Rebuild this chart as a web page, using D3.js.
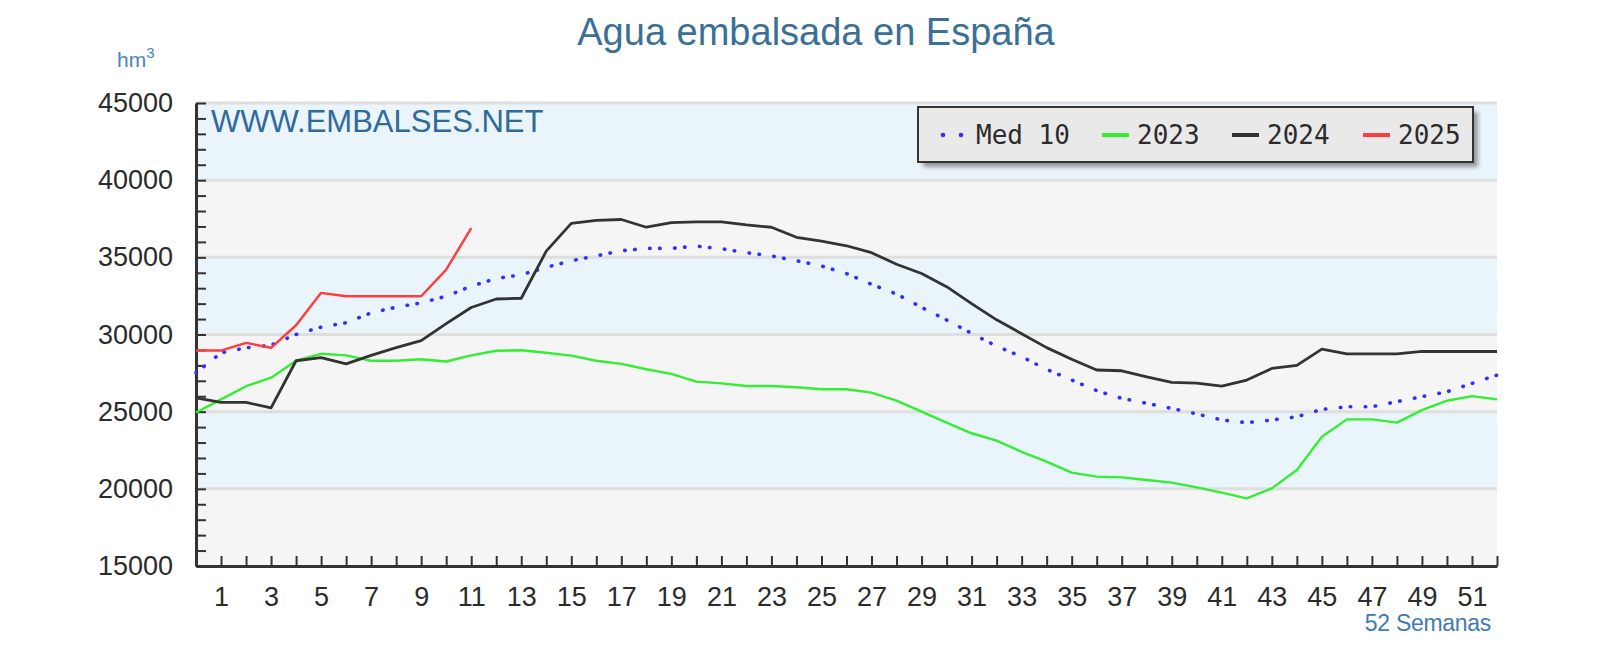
<!DOCTYPE html>
<html>
<head>
<meta charset="utf-8">
<script src="https://cdn.jsdelivr.net/npm/d3@7"></script>
<style>
  body { margin: 0; background: #fff; }
  svg { display: block; font-family: 'Liberation Sans', Arial, sans-serif; }
</style>
</head>
<body>
<svg class="chart" width="1600" height="665"></svg>
<script>
// weekly values (hm3), index = week
const med10 = [27520, 28810, 29140, 29310, 30000, 30480, 30760, 31400, 31770, 32050,
  32480, 33130, 33630, 33870, 34350, 34780, 35090, 35430, 35580, 35580,
  35730, 35560, 35300, 35090, 34780, 34440, 33950, 33250, 32620, 31760,
  30940, 30070, 29250, 28560, 27740, 27050, 26360, 25860, 25540, 25210,
  24850, 24460, 24290, 24460, 24670, 25150, 25320, 25320, 25650, 25970,
  26290, 26830, 27370];
const y2023 = [24950, 25800, 26650, 27200, 28300, 28750, 28650, 28300, 28300, 28400,
  28250, 28650, 28950, 28980, 28820, 28630, 28300, 28100, 27750, 27450,
  26950, 26830, 26660, 26660, 26580, 26450, 26450, 26230, 25710, 25000,
  24290, 23600, 23120, 22400, 21760, 21050, 20790, 20740, 20570, 20400,
  20090, 19750, 19380, 20030, 21220, 23380, 24500, 24500, 24290, 25100,
  25710, 26010, 25800];
const y2024 = [25900, 25600, 25600, 25250, 28300, 28500, 28100, 28650, 29150, 29600,
  30700, 31750, 32300, 32350, 35400, 37200, 37400, 37450, 36950, 37250,
  37300, 37300, 37100, 36950, 36300, 36050, 35750, 35300, 34550, 33950,
  33100, 32000, 30950, 30050, 29150, 28400, 27700, 27650, 27250, 26900,
  26850, 26650, 27050, 27800, 28000, 29050, 28750, 28750, 28750, 28900,
  28900, 28900, 28900];
const y2025 = [28960, 28960, 29460, 29140, 30600, 32700, 32480, 32480, 32480, 32480,
  34200, 36900];

const xTickLabels = [1, 3, 5, 7, 9, 11, 13, 15, 17, 19, 21, 23, 25, 27, 29, 31, 33,
  35, 37, 39, 41, 43, 45, 47, 49, 51];
const yTickLabels = [15000, 20000, 25000, 30000, 35000, 40000, 45000];
const legendNames = ['Med 10', '2023', '2024', '2025'];

const $svg = d3.select('svg.chart');

const plot = { left: 196, right: 1497, top: 103, bottom: 566 };

const x = d3.scaleLinear().domain([0, 52]).range([plot.left, plot.right]);
const y = d3.scaleLinear().domain([15000, 45000]).range([plot.bottom, plot.top]);

const series = [
  { name: 'Med 10', values: med10, color: '#2f2fff', width: 3.6, dash: '0.5,9.5,0.5,14.5', cap: 'round' },
  { name: '2023', values: y2023, color: '#33ee33', width: 2.4 },
  { name: '2024', values: y2024, color: '#333333', width: 2.8 },
  { name: '2025', values: y2025, color: '#ff3b3b', width: 2.4 },
];

function drawBackground() {
  const bands = d3.pairs(yTickLabels);
  $svg.append('g')
    .selectAll('rect')
    .data(bands)
    .join('rect')
    .attr('x', plot.left)
    .attr('width', plot.right - plot.left)
    .attr('y', d => y(d[1]))
    .attr('height', d => y(d[0]) - y(d[1]))
    .attr('fill', (d, i) => (i % 2 === 0 ? '#f5f5f5' : '#eaf4fb'));

  $svg.append('g')
    .selectAll('line')
    .data(yTickLabels.slice(1))
    .join('line')
    .attr('x1', plot.left)
    .attr('x2', plot.right)
    .attr('y1', d => y(d))
    .attr('y2', d => y(d))
    .attr('stroke', '#dedede')
    .attr('stroke-width', 3);
}

function drawAxes() {
  const yAxis = d3.axisLeft(y)
    .tickValues(d3.range(15000, 45001, 1000))
    .tickFormat(d => (yTickLabels.includes(d) ? d : ''))
    .tickSizeInner(-10)
    .tickSizeOuter(0)
    .tickPadding(23);

  const xAxis = d3.axisBottom(x)
    .tickValues(d3.range(1, 53))
    .tickFormat(d => (xTickLabels.includes(d) ? d : ''))
    .tickSizeInner(-10)
    .tickSizeOuter(0)
    .tickPadding(21);

  const gy = $svg.append('g').attr('transform', `translate(${plot.left},0)`).call(yAxis);
  const gx = $svg.append('g').attr('transform', `translate(0,${plot.bottom})`).call(xAxis);

  [gy, gx].forEach(g => {
    g.select('.domain').attr('stroke', '#333').attr('stroke-width', 3);
    g.selectAll('.tick line').attr('stroke', '#333').attr('stroke-width', 2);
    g.selectAll('.tick text')
      .attr('fill', '#2b2b2b')
      .style('font-size', '27px')
      .style('font-family', "'Liberation Sans', Arial, sans-serif");
  });
}

function drawLines() {
  const line = d3.line()
    .x((d, i) => x(i))
    .y(d => y(d));

  $svg.append('g')
    .selectAll('path')
    .data(series)
    .join('path')
    .attr('d', d => line(d.values))
    .attr('fill', 'none')
    .attr('stroke', d => d.color)
    .attr('stroke-width', d => d.width)
    .attr('stroke-dasharray', d => d.dash || null)
    .attr('stroke-linecap', d => d.cap || 'butt')
    .attr('stroke-linejoin', 'round');
}

function drawLegend() {
  const defs = $svg.append('defs');
  defs.append('filter')
    .attr('id', 'blur')
    .append('feGaussianBlur')
    .attr('stdDeviation', 2);

  const g = $svg.append('g');
  g.append('rect')
    .attr('x', 923).attr('y', 112)
    .attr('width', 555).attr('height', 55)
    .attr('fill', '#6f6f6f')
    .attr('opacity', 0.7)
    .attr('filter', 'url(#blur)');
  g.append('rect')
    .attr('x', 918).attr('y', 107)
    .attr('width', 555).attr('height', 55)
    .attr('fill', '#e9e9e9')
    .attr('stroke', '#333')
    .attr('stroke-width', 2);

  const keyX = [943, 1102, 1232, 1363];
  const textX = [976, 1137, 1267, 1398];
  const cy = 135;

  // dotted key for Med 10
  g.selectAll('circle')
    .data([0, 18])
    .join('circle')
    .attr('cx', d => keyX[0] + d)
    .attr('cy', cy)
    .attr('r', 2.3)
    .attr('fill', series[0].color);

  g.selectAll('line')
    .data(series.slice(1))
    .join('line')
    .attr('x1', (d, i) => keyX[i + 1])
    .attr('x2', (d, i) => keyX[i + 1] + 27)
    .attr('y1', cy)
    .attr('y2', cy)
    .attr('stroke', d => d.color)
    .attr('stroke-width', 4);

  g.selectAll('text')
    .data(legendNames)
    .join('text')
    .attr('x', (d, i) => textX[i])
    .attr('y', cy)
    .attr('dy', '0.36em')
    .attr('fill', '#2b2b2b')
    .style('font-family', "'DejaVu Sans Mono', monospace")
    .style('font-size', '26px')
    .text(d => d);
}

function drawTexts() {
  $svg.append('text')
    .attr('x', 816)
    .attr('y', 45)
    .attr('text-anchor', 'middle')
    .attr('fill', '#3a6f96')
    .style('font-size', '38px')
    .text('Agua embalsada en España');

  const hm = $svg.append('text')
    .attr('x', 117)
    .attr('y', 67)
    .attr('fill', '#4a86b4')
    .style('font-size', '21px')
    .text('hm');
  hm.append('tspan')
    .attr('dy', -9)
    .style('font-size', '15px')
    .text('3');

  $svg.append('text')
    .attr('x', 211)
    .attr('y', 132)
    .attr('fill', '#2f6a9a')
    .style('font-size', '31px')
    .text('WWW.EMBALSES.NET');

  $svg.append('text')
    .attr('x', 1491)
    .attr('y', 631)
    .attr('text-anchor', 'end')
    .attr('fill', '#3f7cab')
    .style('font-size', '23px')
    .style('letter-spacing', '-0.3px')
    .text('52 Semanas');
}

function init() {
  drawBackground();
  drawAxes();
  drawLines();
  drawLegend();
  drawTexts();
}

init();
</script>
</body>
</html>
